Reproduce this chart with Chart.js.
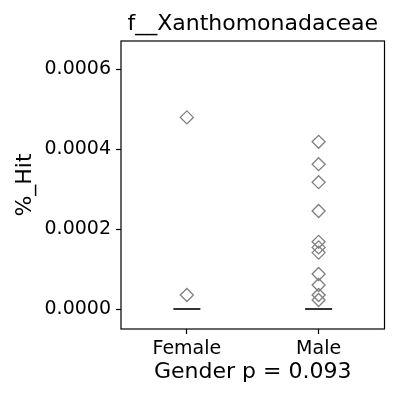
<!DOCTYPE html>
<html>
<head>
<meta charset="utf-8">
<script src="https://cdn.jsdelivr.net/npm/chart.js@4"></script>
<style>
  html, body { margin: 0; padding: 0; background: #fff; }
  #wrap { width: 400px; height: 400px; }
</style>
</head>
<body>
<div id="wrap"><canvas id="c"></canvas></div>
<script>
// data
const categories = ["Female", "Male"];
const femaleHits = [0.000479, 0.000035];
const maleHits = [0.000418, 0.000362, 0.000317, 0.000245, 0.000168, 0.000154, 0.000141,
                  0.0000875, 0.00006, 0.000035, 0.0000225];
const medians = [0, 0];
const yTicks = [0, 0.0002, 0.0004, 0.0006];

const FONT = "'DejaVu Sans', sans-serif";

// matplotlib style full box round the plot
const boxPlugin = {
  id: "box",
  afterDraw(chart) {
    const a = chart.chartArea, ctx = chart.ctx;
    ctx.save();
    ctx.strokeStyle = "#000";
    ctx.lineWidth = 1.2;
    ctx.strokeRect(a.left, a.top, a.right - a.left, a.bottom - a.top);
    ctx.restore();
  }
};

const points = [];
femaleHits.forEach(v => points.push({ x: categories[0], y: v }));
maleHits.forEach(v => points.push({ x: categories[1], y: v }));

new Chart(document.getElementById("c"), {
  type: "scatter",
  data: {
    labels: categories,
    datasets: [
      {
        data: points,
        pointStyle: "rectRot",
        pointRadius: 6.5,
        pointBorderWidth: 1.3,
        borderColor: "#808080",
        backgroundColor: "rgba(0,0,0,0)"
      },
      {
        data: medians.map((m, i) => ({ x: categories[i], y: m })),
        pointStyle: "line",
        pointRadius: 13.5,
        pointBorderWidth: 2,
        borderColor: "#333",
        backgroundColor: "#333"
      }
    ]
  },
  options: {
    responsive: true,
    maintainAspectRatio: false,
    animation: false,
    layout: { padding: { left: 0, right: 15, top: 0, bottom: 0 } },
    plugins: {
      legend: { display: false },
      tooltip: { enabled: false },
      title: {
        display: true,
        fullSize: false,
        text: "f__Xanthomonadaceae",
        color: "#000",
        font: { family: FONT, size: 22, weight: "normal" },
        padding: { top: 11, bottom: 3.6 }
      }
    },
    scales: {
      x: {
        type: "category",
        labels: categories,
        offset: true,
        grid: { display: true, drawOnChartArea: false, tickLength: 5, color: "#000", tickWidth: 1.2 },
        border: { display: false },
        ticks: { color: "#000", padding: 4, font: { family: FONT, size: 19 } },
        title: {
          display: true,
          text: "Gender p = 0.093",
          color: "#000",
          font: { family: FONT, size: 22 },
          padding: { top: 0, bottom: 15 }
        },
        afterFit(s) { s.height = 71; }
      },
      y: {
        min: -0.00005,
        max: 0.00067,
        afterBuildTicks(s) { s.ticks = yTicks.map(v => ({ value: v })); },
        grid: { display: true, drawOnChartArea: false, tickLength: 5, color: "#000", tickWidth: 1.2 },
        border: { display: false },
        ticks: {
          color: "#000",
          padding: 5,
          font: { family: FONT, size: 19 },
          callback: v => v.toFixed(4)
        },
        title: {
          display: true,
          text: "%_Hit",
          color: "#000",
          font: { family: FONT, size: 22 },
          padding: { top: 12, bottom: 0 }
        },
        afterFit(s) { s.width = 121; }
      }
    }
  },
  plugins: [boxPlugin]
});
</script>
</body>
</html>
